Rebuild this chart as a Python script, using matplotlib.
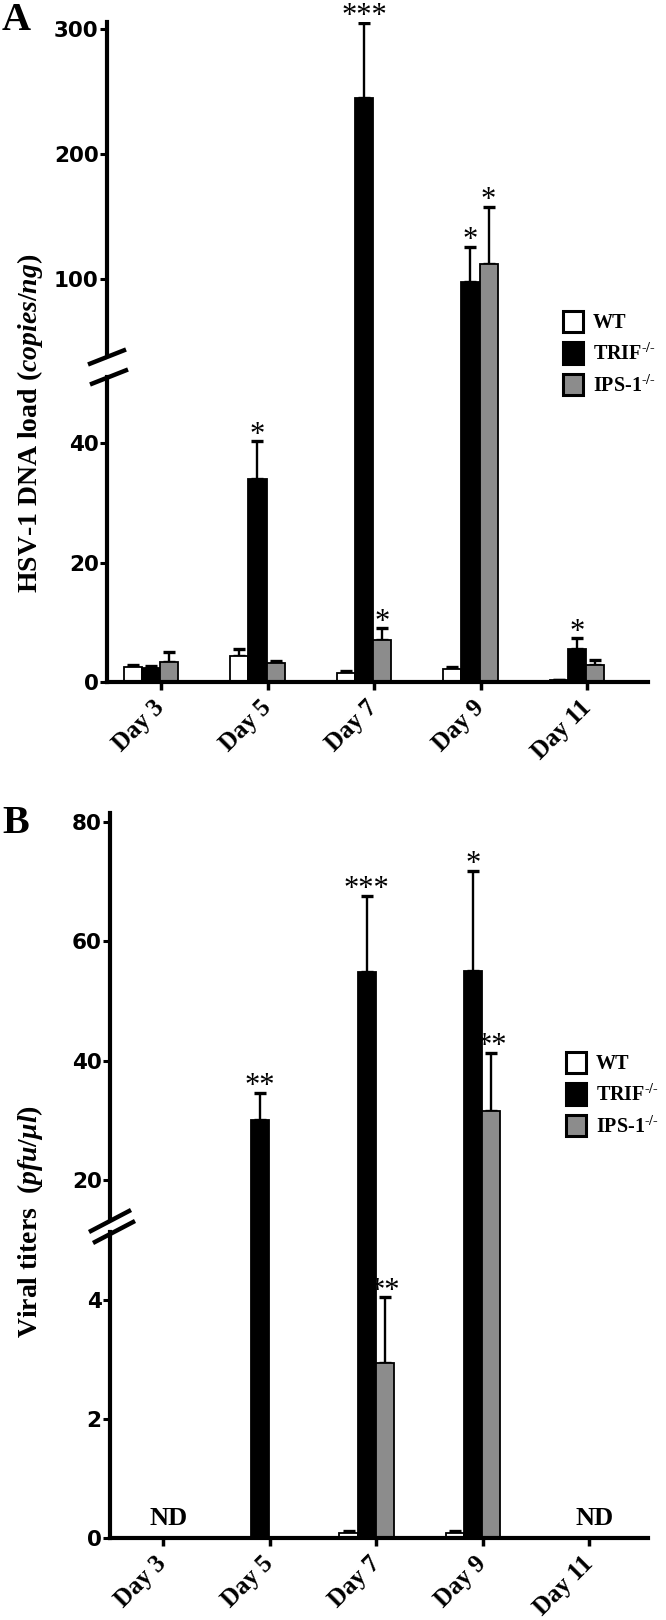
import numpy as np
import matplotlib.pyplot as plt
from matplotlib.patches import Patch
from matplotlib.lines import Line2D

plt.rcParams['mathtext.fontset'] = 'custom'
plt.rcParams['mathtext.rm'] = 'Liberation Serif:bold'
plt.rcParams['mathtext.it'] = 'Liberation Serif:italic:bold'
plt.rcParams['mathtext.bf'] = 'Liberation Serif:bold'

days = ["Day 3", "Day 5", "Day 7", "Day 9", "Day 11"]
groups = ["WT", r"TRIF$^{\text{-/-}}$", r"IPS-1$^{\text{-/-}}$"]
colors = ["white", "black", "#8c8c8c"]

# A: HSV-1 DNA load (copies/ng)
dna_wt = [2.5, 4.3, 1.5, 2.2, 0.3]
dna_wt_err = [0.3, 1.2, 0.3, 0.3, 0.1]
dna_trif = [2.3, 34.0, 245.0, 97.6, 5.5]
dna_trif_err = [0.3, 6.3, 60.0, 28.0, 1.8]
dna_ips = [3.3, 3.2, 7.0, 112.0, 2.8]
dna_ips_err = [1.7, 0.3, 2.0, 45.6, 0.9]
dna_stars = {(1, 1): "*", (2, 1): "***", (2, 2): "*", (3, 1): "*", (3, 2): "*", (4, 1): "*"}

# B: viral titers (pfu/ul), nan = not detected
nan = np.nan
tit_wt = [nan, nan, 0.08, 0.08, nan]
tit_wt_err = [nan, nan, 0.03, 0.03, nan]
tit_trif = [nan, 30.0, 54.8, 55.0, nan]
tit_trif_err = [nan, 4.6, 12.8, 16.8, nan]
tit_ips = [nan, nan, 2.94, 31.6, nan]
tit_ips_err = [nan, nan, 1.11, 9.7, nan]
tit_stars = {(1, 1): "**", (2, 1): "***", (2, 2): "**", (3, 1): "*", (3, 2): "**"}
nd_days = ["Day 3", "Day 11"]

W, H = 666, 1620
fig = plt.figure(figsize=(W / 100, H / 100), dpi=100)


def make_ax(left, right, top, bottom):
    return fig.add_axes([left / W, 1 - bottom / H, (right - left) / W, (bottom - top) / H])


serif = 'Liberation Serif'
sans = 'DejaVu Sans'
bw = 0.17


def panel(ax_top, ax_bot, series, errs, stars, xlim, tickoff, split):
    # split = value where the lower y-axis line stops (start of the break)
    x = np.arange(len(days))
    for ax in (ax_top, ax_bot):
        for k, (vals, err, col) in enumerate(zip(series, errs, colors)):
            vals = np.array(vals, float)
            err = np.array(err, float)
            pos = x + (k - 1) * bw
            ok = ~np.isnan(vals)
            ax.bar(pos[ok], vals[ok], bw, color=col, edgecolor='black', linewidth=1.3, zorder=2)
            tops = vals + err
            if ax is ax_top:
                ok = ok & (tops > split)
            else:
                ok = ok & (tops <= split)
            if ok.any():
                ax.errorbar(pos[ok], vals[ok], yerr=[np.zeros(ok.sum()), err[ok]], fmt='none',
                            ecolor='black', elinewidth=1.7, capsize=4, capthick=2.4, zorder=1.5)
        ax.set_xlim(*xlim)
        for s in ('top', 'right'):
            ax.spines[s].set_visible(False)
        ax.spines['left'].set_linewidth(3)
        ax.spines['bottom'].set_linewidth(3)
        ax.tick_params(axis='y', direction='out', length=5, width=2.2, pad=1, labelsize=15.5)
        for lab in ax.get_yticklabels():
            lab.set_fontfamily(sans)
            lab.set_fontweight('bold')
    ax_bot.spines['left'].set_bounds(0, split)
    ax_top.spines['bottom'].set_visible(False)
    ax_top.tick_params(axis='x', bottom=False, labelbottom=False)
    ax_bot.set_xticks(x + tickoff)
    ax_bot.set_xticklabels(days, rotation=45, ha='right', va='center', rotation_mode='anchor',
                           fontfamily=serif, fontweight='bold', fontsize=18)
    ax_bot.tick_params(axis='x', direction='out', length=6, width=2.5, pad=10)
    for (i, k), txt in stars.items():
        v = series[k][i] + errs[k][i]
        ax = ax_top if v > split else ax_bot
        ax.annotate(txt, (i + (k - 1) * bw, v), xytext=(0, -1), textcoords='offset points',
                    ha='center', va='baseline', fontsize=22, fontfamily=serif)


def breaks(ax_top, y_low, dx, dy, shift):
    # y_low: pixel row (from top) of the second slash
    x0 = ax_top.get_position().x0
    y0 = ax_top.get_position().y0
    for yy, sx in ((y0, 0), (1 - y_low / H, shift)):
        xx = x0 + sx / W
        fig.add_artist(Line2D([xx - dx / W, xx + dx / W], [yy - dy / H, yy + dy / H],
                              color='black', linewidth=3.2, solid_capstyle='butt'))


def legend(x, ytop):
    handles = [Patch(facecolor=c, edgecolor='black', linewidth=2.2) for c in colors]
    fig.legend(handles, groups, loc='upper left', bbox_to_anchor=(x / W, 1 - ytop / H),
               frameon=False, borderpad=0, borderaxespad=0, handlelength=1.0, handleheight=1.25,
               handletextpad=0.5, labelspacing=0.45,
               prop={'family': serif, 'weight': 'bold', 'size': 14.5})


# panel A
a_top = make_ax(107, 648, 22, 357)
a_bot = make_ax(107, 648, 357, 682)
a_top.set_ylim(37.6, 305.6)
a_top.set_yticks([100, 200, 300])
a_bot.set_ylim(0, 54.4)
a_bot.set_yticks([0, 20, 40])
panel(a_top, a_bot, [dna_wt, dna_trif, dna_ips], [dna_wt_err, dna_trif_err, dna_ips_err],
      dna_stars, (-0.413, 4.667), 0.095, 51.1)
breaks(a_top, 377, 19, 7.5, 2)
legend(563, 311)
fig.text(2 / W, 1 - 2 / H, "A", fontfamily=serif, fontweight='bold', fontsize=29, va='top', ha='left')
fig.text(30 / W, 1 - 423 / H, "HSV-1 DNA load $(copies/ng)$", rotation=90, ha='center', va='center',
         fontfamily=serif, fontweight='bold', fontsize=20)

# panel B
b_top = make_ax(110, 648, 813, 1221)
b_bot = make_ax(110, 648, 1221, 1538)
b_top.set_ylim(13.1, 81.5)
b_top.set_yticks([20, 40, 60, 80])
b_bot.set_ylim(0, 5.33)
b_bot.set_yticks([0, 2, 4])
panel(b_top, b_bot, [tit_wt, tit_trif, tit_ips], [tit_wt_err, tit_trif_err, tit_ips_err],
      tit_stars, (-0.408, 4.64), 0.09, 5.14)
breaks(b_top, 1232, 21, 11, 4)
legend(566, 1052)
for d in nd_days:
    i = days.index(d)
    b_bot.annotate("ND", (i + 0.14, 0), xytext=(0, 6), textcoords='offset points', ha='center',
                   va='bottom', fontfamily=serif, fontweight='bold', fontsize=19)
fig.text(2 / W, 1 - 805 / H, "B", fontfamily=serif, fontweight='bold', fontsize=29, va='top', ha='left')
fig.text(30 / W, 1 - 1222 / H, "Viral titers  $(pfu/μl)$", rotation=90, ha='center', va='center',
         fontfamily=serif, fontweight='bold', fontsize=20)

fig.savefig("out.png", dpi=100)
